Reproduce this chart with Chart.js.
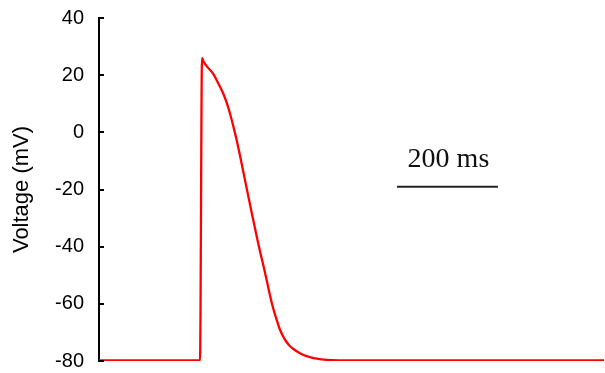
<!DOCTYPE html>
<html>
<head>
<meta charset="utf-8">
<script src="https://cdn.jsdelivr.net/npm/chart.js@4.4.1/dist/chart.umd.min.js"></script>
<style>
    body { margin: 0; background: #fff; }
    #wrap { width: 605px; height: 373px; position: relative; }
</style>
</head>
<body>
<div id="wrap"><canvas id="ap-chart"></canvas></div>
<script>
// Action potential trace
const timeMs = [0, 200, 204, 207, 214, 226, 236, 246, 253, 259.4, 266, 273, 280, 289, 302, 315, 329, 342, 352, 358, 365, 370, 377, 385, 398, 411, 425, 440, 460, 500, 600, 800, 1000];
const voltageMv = [-79.8, -79.8, 26, 24.8, 23, 20.5, 17.2, 13.6, 10.3, 6.6, 2.1, -3, -8.8, -16.6, -27.8, -38.6, -49.3, -59.6, -65.7, -68.9, -71.5, -73.0, -74.6, -75.8, -77.3, -78.3, -79, -79.4, -79.7, -79.8, -79.8, -79.8, -79.8];

// Y axis ticks
const yTicks = [-80, -60, -40, -20, 0, 20, 40];

// Scale bar (time span in ms, drawn at a voltage level)
const scaleBarMs = [590, 790];
const scaleBarMv = -19;
const scaleBarLabelMv = -12;
const scaleBarLabel = '200 ms';

const points = timeMs.map((t, i) => ({ x: t, y: voltageMv[i] }));

// Draws the inward tick marks and the scale bar
const extrasPlugin = {
    id: 'extras',
    afterDraw(chart) {
        const ctx = chart.ctx;
        const xs = chart.scales.x;
        const ys = chart.scales.y;
        const left = chart.chartArea.left;

        ctx.save();
        ctx.strokeStyle = '#000';
        ctx.lineWidth = 2;
        yTicks.forEach(v => {
            const py = Math.round(ys.getPixelForValue(v));
            ctx.beginPath();
            ctx.moveTo(left - 1, py);
            ctx.lineTo(left + 5, py);
            ctx.stroke();
        });

        // scale bar
        const x1 = xs.getPixelForValue(scaleBarMs[0]);
        const x2 = xs.getPixelForValue(scaleBarMs[1]);
        const by = ys.getPixelForValue(scaleBarMv);
        ctx.strokeStyle = '#222';
        ctx.lineWidth = 2;
        ctx.beginPath();
        ctx.moveTo(x1, by);
        ctx.lineTo(x2, by);
        ctx.stroke();

        ctx.fillStyle = '#111';
        ctx.font = '28px "Liberation Serif", "Times New Roman", serif';
        ctx.textAlign = 'center';
        ctx.textBaseline = 'alphabetic';
        ctx.fillText(scaleBarLabel, (x1 + x2) / 2 + 1, ys.getPixelForValue(scaleBarLabelMv));
        ctx.restore();
    }
};

const ctx = document.getElementById('ap-chart').getContext('2d');
const apChart = new Chart(ctx, {
    type: 'line',
    data: {
        datasets: [{
            label: 'Voltage',
            data: points,
            borderColor: '#ff0000',
            borderWidth: 2.3,
            pointRadius: 0,
            fill: false,
            cubicInterpolationMode: 'monotone'
        }]
    },
    options: {
        responsive: true,
        maintainAspectRatio: false,
        animation: false,
        layout: {
            padding: { top: 18, right: 1, bottom: 12, left: 0 }
        },
        plugins: {
            legend: { display: false },
            tooltip: { enabled: false }
        },
        scales: {
            x: {
                type: 'linear',
                min: 0,
                max: 1000,
                display: false
            },
            y: {
                min: -80,
                max: 40,
                afterFit(scale) {
                    scale.width = 99;
                    scale.paddingTop = 0;
                    scale.paddingBottom = 0;
                },
                afterBuildTicks(scale) {
                    scale.ticks = yTicks.map(v => ({ value: v }));
                },
                grid: {
                    display: true,
                    drawOnChartArea: false,
                    drawTicks: false
                },
                border: {
                    display: true,
                    color: '#000',
                    width: 2
                },
                ticks: {
                    padding: 15,
                    color: '#000',
                    font: { family: '"Liberation Sans", Arial, sans-serif', size: 20 }
                },
                title: {
                    display: true,
                    text: 'Voltage (mV)',
                    color: '#000',
                    padding: { top: 9, bottom: 0 },
                    font: { family: '"Liberation Sans", Arial, sans-serif', size: 22 }
                }
            }
        }
    },
    plugins: [extrasPlugin]
});
</script>
</body>
</html>
